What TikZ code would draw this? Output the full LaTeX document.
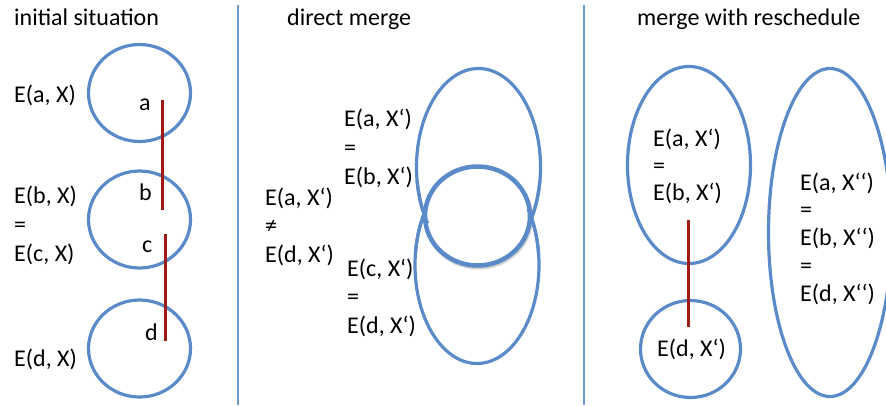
\documentclass[tikz,border=0pt]{standalone}
\usepackage{fontspec}
\setmainfont{Carlito}
\usetikzlibrary{shapes.geometric}
\definecolor{ringblue}{HTML}{5A8BC8}
\definecolor{divblue}{HTML}{6C9AD0}
\definecolor{linkred}{HTML}{9E1B14}
\tikzset{
  ring/.style={draw=ringblue, line width=3.2pt, ellipse, inner sep=0pt},
  heavyring/.style={draw=ringblue, line width=4.5pt, ellipse, inner sep=0pt, fill=white},
  ghostring/.style={draw=black!30, line width=4pt, ellipse, inner sep=0pt, opacity=0.6},
  link/.style={draw=linkred, line width=3pt},
  divider/.style={draw=divblue, line width=2.6pt},
  lbl/.style={anchor=base west, inner sep=0pt, font=\fontsize{24}{29}\selectfont},
}
\begin{document}
\begin{tikzpicture}[x=1pt, y=-1pt]
\useasboundingbox (0,0) rectangle (886,405);
% dividers
\coordinate (d1t) at (238,5); \coordinate (d1b) at (238,405);
\coordinate (d2t) at (584,5); \coordinate (d2b) at (584,405);
\draw[divider] (d1t) -- (d1b);
\draw[divider] (d2t) -- (d2b);

% ---------- initial situation ----------
\node[lbl] (t1) at (14,25) {initial situation};
\node[ring, minimum width=102pt, minimum height=97pt] (ca) at (139.5,93) {};
\node[ring, minimum width=102pt, minimum height=97pt] (cb) at (139.5,219.5) {};
\node[ring, minimum width=102pt, minimum height=97pt] (cd) at (139.5,348.5) {};
\node[lbl] (la) at (139,110) {a};
\node[lbl] (lb) at (139,200) {b};
\node[lbl] (lc) at (142,252) {c};
\node[lbl] (ld) at (145,340) {d};
\coordinate (r1t) at (162,100); \coordinate (r1b) at (162,210);
\coordinate (r2t) at (165,234); \coordinate (r2b) at (165,341);
\draw[link] (r1t) -- (r1b);
\draw[link] (r2t) -- (r2b);
\node[lbl] (ea) at (14,102) {E(a, X)};
\node[lbl] (eb) at (14,203) {E(b, X)};
\node[lbl] (eq1) at (14,232) {=};
\node[lbl] (ec) at (14,261) {E(c, X)};
\node[lbl] (ed) at (14,366) {E(d, X)};

% ---------- direct merge ----------
\node[lbl] (t2) at (287,25) {direct merge};
\node[ring, minimum width=124pt, minimum height=197pt] (mu) at (478.5,167) {};
\node[ring, minimum width=124pt, minimum height=197pt] (ml) at (477,265) {};
\node[ghostring, minimum width=105pt, minimum height=99pt] (mcs) at (478.5,218) {};
\node[heavyring, minimum width=105pt, minimum height=99pt] (mc) at (477.5,216) {};
\begin{scope}
  \clip (400,180) rectangle (560,222);
  \draw[ringblue, line width=3.2pt] (mu.center) ellipse [x radius=62, y radius=98.5];
\end{scope}
\begin{scope}
  \clip (400,210) rectangle (560,252);
  \draw[ringblue, line width=3.2pt] (ml.center) ellipse [x radius=62, y radius=98.5];
\end{scope}
\node[lbl] (m1a) at (344,126) {E(a, X‘)};
\node[lbl] (m1e) at (344,155) {=};
\node[lbl] (m1b) at (344,184) {E(b, X‘)};
\node[lbl] (m2a) at (265,205) {E(a, X‘)};
\node[lbl] (m2e) at (265,233.5) {≠};
\node[lbl] (m2d) at (265,262) {E(d, X‘)};
\node[lbl] (m3c) at (347,276) {E(c, X‘)};
\node[lbl] (m3e) at (347,304.5) {=};
\node[lbl] (m3d) at (347,333) {E(d, X‘)};

% ---------- merge with reschedule ----------
\node[lbl] (t3) at (637,25) {merge with reschedule};
\node[ring, minimum width=123pt, minimum height=197pt] (sa) at (689,165) {};
\node[ring, minimum width=100pt, minimum height=97pt] (sd) at (690.5,349) {};
\node[ring, minimum width=123pt, minimum height=328pt] (sb) at (830,232.5) {};
\coordinate (r3t) at (688,220); \coordinate (r3b) at (688,327);
\draw[link] (r3t) -- (r3b);
\node[lbl] (s1a) at (653,146) {E(a, X‘)};
\node[lbl] (s1e) at (653,173) {=};
\node[lbl] (s1b) at (653,200) {E(b, X‘)};
\node[lbl] (s2d) at (657,356) {E(d, X‘)};
\node[lbl] (s3a) at (800,190) {E(a, X‘‘)};
\node[lbl] (s3e) at (800,217.5) {=};
\node[lbl] (s3b) at (800,245) {E(b, X‘‘)};
\node[lbl] (s3f) at (800,273) {=};
\node[lbl] (s3d) at (800,301) {E(d, X‘‘)};
\end{tikzpicture}
\end{document}
